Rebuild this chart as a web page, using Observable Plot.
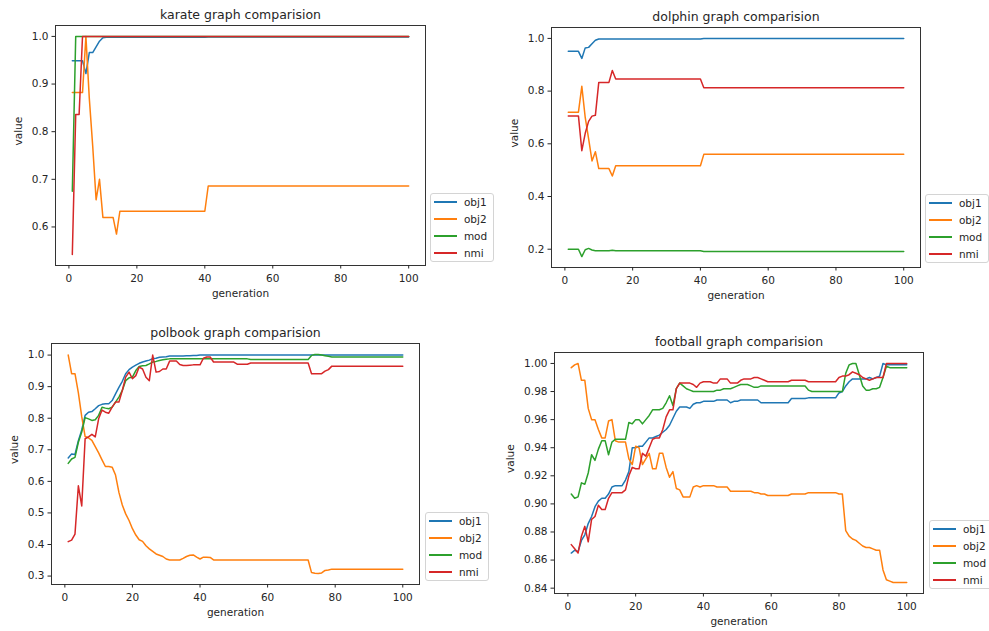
<!DOCTYPE html>
<html><head><meta charset="utf-8">
<script src="https://cdn.jsdelivr.net/npm/d3@7"></script>
<script src="https://cdn.jsdelivr.net/npm/@observablehq/plot@0.6"></script>
<style>
body{margin:0;background:#fff;}
#root{position:relative;width:989px;height:631px;overflow:hidden;background:#fff;font-family:"DejaVu Sans",sans-serif;}
.panel{position:absolute;}
.legend{position:absolute;width:64px;box-sizing:border-box;border:1px solid #d4d4d4;border-radius:3px;background:#fff;padding:0 0 0 2.5px;font-size:10.5px;color:#262626;}
.legend .row{height:16.8px;display:flex;align-items:center;white-space:nowrap;}
.legend .sw{display:block;width:23.4px;height:2px;margin-right:7px;flex:none;}
</style></head><body><div id="root"></div>
<script>
const seriesNames = ["obj1","obj2","mod","nmi"];
const seriesColors = ["#1f77b4","#ff7f0e","#2ca02c","#d62728"];
const generations = Array.from({length:100},(_,i)=>i+1);
const xTicks = [0,20,40,60,80,100];

// karate
const k_obj1 = [0.949,0.949,0.949,0.949,0.922,0.966,0.966,0.978,0.990,0.997,
0.998,0.998,0.998,0.998,0.998,0.998,0.998,0.998,0.998,0.998,
0.998,0.998,0.998,0.998,0.998,0.998,0.998,0.998,0.998,0.998,
0.998,0.998,0.998,0.998,0.998,0.998,0.998,0.998,0.998,0.998,
0.999,0.999,0.999,0.999,0.999,0.999,0.999,0.999,0.999,0.999,
0.999,0.999,0.999,0.999,0.999,0.999,0.999,0.999,0.999,0.999,
0.999,0.999,0.999,0.999,0.999,0.999,0.999,0.999,0.999,0.999,
0.999,0.999,0.999,0.999,0.999,0.999,0.999,0.999,0.999,0.999,
0.999,0.999,0.999,0.999,0.999,0.999,0.999,0.999,0.999,0.999,
0.999,0.999,0.999,0.999,0.999,0.999,0.999,0.999,0.999,0.999];
const k_obj2 = [0.882,0.882,0.882,0.882,1.000,0.870,0.770,0.657,0.700,0.620,
0.620,0.620,0.620,0.585,0.633,0.633,0.633,0.633,0.633,0.633,
0.633,0.633,0.633,0.633,0.633,0.633,0.633,0.633,0.633,0.633,
0.633,0.633,0.633,0.633,0.633,0.633,0.633,0.633,0.633,0.633,
0.686,0.686,0.686,0.686,0.686,0.686,0.686,0.686,0.686,0.686,
0.686,0.686,0.686,0.686,0.686,0.686,0.686,0.686,0.686,0.686,
0.686,0.686,0.686,0.686,0.686,0.686,0.686,0.686,0.686,0.686,
0.686,0.686,0.686,0.686,0.686,0.686,0.686,0.686,0.686,0.686,
0.686,0.686,0.686,0.686,0.686,0.686,0.686,0.686,0.686,0.686,
0.686,0.686,0.686,0.686,0.686,0.686,0.686,0.686,0.686,0.686];
const k_mod = [0.675,1.000,1.000,1.000,1.000,1.000,1.000,1.000,1.000,1.000,
1.000,1.000,1.000,1.000,1.000,1.000,1.000,1.000,1.000,1.000,
1.000,1.000,1.000,1.000,1.000,1.000,1.000,1.000,1.000,1.000,
1.000,1.000,1.000,1.000,1.000,1.000,1.000,1.000,1.000,1.000,
1.000,1.000,1.000,1.000,1.000,1.000,1.000,1.000,1.000,1.000,
1.000,1.000,1.000,1.000,1.000,1.000,1.000,1.000,1.000,1.000,
1.000,1.000,1.000,1.000,1.000,1.000,1.000,1.000,1.000,1.000,
1.000,1.000,1.000,1.000,1.000,1.000,1.000,1.000,1.000,1.000,
1.000,1.000,1.000,1.000,1.000,1.000,1.000,1.000,1.000,1.000,
1.000,1.000,1.000,1.000,1.000,1.000,1.000,1.000,1.000,1.000];
const k_nmi = [0.542,0.836,0.836,1.000,1.000,1.000,1.000,1.000,1.000,1.000,
1.000,1.000,1.000,1.000,1.000,1.000,1.000,1.000,1.000,1.000,
1.000,1.000,1.000,1.000,1.000,1.000,1.000,1.000,1.000,1.000,
1.000,1.000,1.000,1.000,1.000,1.000,1.000,1.000,1.000,1.000,
1.000,1.000,1.000,1.000,1.000,1.000,1.000,1.000,1.000,1.000,
1.000,1.000,1.000,1.000,1.000,1.000,1.000,1.000,1.000,1.000,
1.000,1.000,1.000,1.000,1.000,1.000,1.000,1.000,1.000,1.000,
1.000,1.000,1.000,1.000,1.000,1.000,1.000,1.000,1.000,1.000,
1.000,1.000,1.000,1.000,1.000,1.000,1.000,1.000,1.000,1.000,
1.000,1.000,1.000,1.000,1.000,1.000,1.000,1.000,1.000,1.000];

// dolphin
const d_obj1 = [0.951,0.951,0.951,0.951,0.924,0.964,0.966,0.980,0.993,0.998,
0.998,0.998,0.998,0.998,0.998,0.998,0.998,0.998,0.998,0.998,
0.998,0.998,0.998,0.998,0.998,0.998,0.998,0.998,0.998,0.998,
0.998,0.998,0.998,0.998,0.998,0.998,0.998,0.998,0.998,0.998,
1.000,1.000,1.000,1.000,1.000,1.000,1.000,1.000,1.000,1.000,
1.000,1.000,1.000,1.000,1.000,1.000,1.000,1.000,1.000,1.000,
1.000,1.000,1.000,1.000,1.000,1.000,1.000,1.000,1.000,1.000,
1.000,1.000,1.000,1.000,1.000,1.000,1.000,1.000,1.000,1.000,
1.000,1.000,1.000,1.000,1.000,1.000,1.000,1.000,1.000,1.000,
1.000,1.000,1.000,1.000,1.000,1.000,1.000,1.000,1.000,1.000];
const d_obj2 = [0.720,0.720,0.720,0.720,0.818,0.700,0.620,0.535,0.570,0.506,
0.506,0.506,0.506,0.478,0.517,0.517,0.517,0.517,0.517,0.517,
0.517,0.517,0.517,0.517,0.517,0.517,0.517,0.517,0.517,0.517,
0.517,0.517,0.517,0.517,0.517,0.517,0.517,0.517,0.517,0.517,
0.560,0.560,0.560,0.560,0.560,0.560,0.560,0.560,0.560,0.560,
0.560,0.560,0.560,0.560,0.560,0.560,0.560,0.560,0.560,0.560,
0.560,0.560,0.560,0.560,0.560,0.560,0.560,0.560,0.560,0.560,
0.560,0.560,0.560,0.560,0.560,0.560,0.560,0.560,0.560,0.560,
0.560,0.560,0.560,0.560,0.560,0.560,0.560,0.560,0.560,0.560,
0.560,0.560,0.560,0.560,0.560,0.560,0.560,0.560,0.560,0.560];
const d_mod = [0.200,0.200,0.200,0.200,0.172,0.198,0.203,0.197,0.194,0.194,
0.194,0.194,0.194,0.196,0.194,0.194,0.194,0.194,0.194,0.194,
0.194,0.194,0.194,0.194,0.194,0.194,0.194,0.194,0.194,0.194,
0.194,0.194,0.194,0.194,0.194,0.194,0.194,0.194,0.194,0.194,
0.191,0.191,0.191,0.191,0.191,0.191,0.191,0.191,0.191,0.191,
0.191,0.191,0.191,0.191,0.191,0.191,0.191,0.191,0.191,0.191,
0.191,0.191,0.191,0.191,0.191,0.191,0.191,0.191,0.191,0.191,
0.191,0.191,0.191,0.191,0.191,0.191,0.191,0.191,0.191,0.191,
0.191,0.191,0.191,0.191,0.191,0.191,0.191,0.191,0.191,0.191,
0.191,0.191,0.191,0.191,0.191,0.191,0.191,0.191,0.191,0.191];
const d_nmi = [0.706,0.706,0.706,0.706,0.574,0.640,0.685,0.705,0.708,0.833,
0.833,0.833,0.833,0.878,0.846,0.846,0.846,0.846,0.846,0.846,
0.846,0.846,0.846,0.846,0.846,0.846,0.846,0.846,0.846,0.846,
0.846,0.846,0.846,0.846,0.846,0.846,0.846,0.846,0.846,0.846,
0.813,0.813,0.813,0.813,0.813,0.813,0.813,0.813,0.813,0.813,
0.813,0.813,0.813,0.813,0.813,0.813,0.813,0.813,0.813,0.813,
0.813,0.813,0.813,0.813,0.813,0.813,0.813,0.813,0.813,0.813,
0.813,0.813,0.813,0.813,0.813,0.813,0.813,0.813,0.813,0.813,
0.813,0.813,0.813,0.813,0.813,0.813,0.813,0.813,0.813,0.813,
0.813,0.813,0.813,0.813,0.813,0.813,0.813,0.813,0.813,0.813];

// polbook
const p_obj1 = [0.674,0.687,0.685,0.729,0.763,0.809,0.819,0.821,0.830,0.840,
0.844,0.846,0.846,0.856,0.877,0.898,0.917,0.941,0.954,0.962,
0.968,0.974,0.978,0.981,0.984,0.989,0.990,0.993,0.994,0.995,
0.997,0.997,0.997,0.997,0.997,0.998,0.998,0.999,0.999,1.000,
1.000,1.000,1.000,1.000,1.000,1.000,1.000,1.000,1.000,1.000,
1.000,1.000,1.000,1.000,1.000,1.000,1.000,1.000,1.000,1.000,
1.000,1.000,1.000,1.000,1.000,1.000,1.000,1.000,1.000,1.000,
1.000,1.000,1.000,1.000,1.000,1.000,1.000,1.000,1.000,1.000,
1.000,1.000,1.000,1.000,1.000,1.000,1.000,1.000,1.000,1.000,
1.000,1.000,1.000,1.000,1.000,1.000,1.000,1.000,1.000,1.000];
const p_obj2 = [1.000,0.941,0.941,0.880,0.805,0.742,0.738,0.730,0.710,0.690,
0.668,0.647,0.647,0.645,0.620,0.565,0.525,0.497,0.476,0.450,
0.430,0.415,0.410,0.396,0.386,0.378,0.370,0.366,0.362,0.354,
0.351,0.351,0.351,0.351,0.356,0.362,0.366,0.367,0.360,0.354,
0.360,0.360,0.359,0.351,0.351,0.351,0.351,0.351,0.351,0.351,
0.351,0.351,0.351,0.351,0.351,0.351,0.351,0.351,0.351,0.351,
0.351,0.351,0.351,0.351,0.351,0.351,0.351,0.351,0.351,0.351,
0.351,0.351,0.311,0.309,0.308,0.310,0.318,0.319,0.322,0.322,
0.322,0.322,0.322,0.322,0.322,0.322,0.322,0.322,0.322,0.322,
0.322,0.322,0.322,0.322,0.322,0.322,0.322,0.322,0.322,0.322];
const p_mod = [0.657,0.671,0.676,0.724,0.756,0.802,0.798,0.793,0.795,0.809,
0.835,0.832,0.830,0.835,0.851,0.867,0.888,0.919,0.928,0.930,
0.951,0.964,0.966,0.967,0.972,0.978,0.980,0.983,0.985,0.987,
0.988,0.988,0.988,0.988,0.988,0.988,0.988,0.988,0.988,0.988,
0.988,0.988,0.988,0.988,0.988,0.988,0.988,0.988,0.988,0.988,
0.988,0.988,0.988,0.988,0.986,0.986,0.986,0.986,0.986,0.986,
0.986,0.986,0.986,0.986,0.986,0.986,0.986,0.986,0.986,0.986,
0.986,0.986,0.999,1.002,1.002,1.000,0.998,0.996,0.994,0.994,
0.994,0.994,0.994,0.994,0.994,0.994,0.994,0.994,0.994,0.994,
0.994,0.994,0.994,0.994,0.994,0.994,0.994,0.994,0.994,0.994];
const p_nmi = [0.409,0.414,0.433,0.586,0.522,0.735,0.741,0.749,0.741,0.798,
0.826,0.819,0.816,0.835,0.851,0.851,0.888,0.930,0.946,0.925,
0.935,0.962,0.956,0.930,0.919,1.000,0.946,0.948,0.956,0.956,
0.981,0.981,0.981,0.970,0.967,0.967,0.968,0.969,0.969,0.969,
0.990,0.994,0.994,0.978,0.978,0.978,0.978,0.978,0.978,0.978,
0.971,0.971,0.971,0.971,0.975,0.975,0.975,0.975,0.975,0.975,
0.975,0.975,0.975,0.975,0.975,0.975,0.975,0.975,0.975,0.975,
0.975,0.975,0.941,0.941,0.941,0.941,0.949,0.954,0.965,0.965,
0.965,0.965,0.965,0.965,0.965,0.965,0.965,0.965,0.965,0.965,
0.965,0.965,0.965,0.965,0.965,0.965,0.965,0.965,0.965,0.965];

// football
const f_obj1 = [0.865,0.867,0.866,0.874,0.878,0.886,0.891,0.898,0.902,0.904,
0.904,0.907,0.912,0.913,0.913,0.913,0.917,0.923,0.940,0.940,
0.941,0.941,0.944,0.947,0.947,0.948,0.949,0.951,0.953,0.956,
0.961,0.966,0.969,0.969,0.969,0.968,0.971,0.972,0.972,0.973,
0.973,0.973,0.973,0.974,0.974,0.974,0.974,0.972,0.973,0.973,
0.974,0.974,0.974,0.974,0.974,0.974,0.972,0.972,0.972,0.972,
0.972,0.972,0.972,0.972,0.972,0.975,0.975,0.975,0.975,0.975,
0.9755,0.9755,0.9755,0.9755,0.9755,0.9755,0.9755,0.9755,0.9755,0.979,
0.980,0.984,0.987,0.989,0.989,0.989,0.989,0.989,0.990,0.989,
0.990,0.991,1.000,0.999,0.999,0.999,0.999,0.999,0.999,0.999];
const f_obj2 = [0.997,0.999,1.000,0.988,0.988,0.968,0.960,0.960,0.953,0.947,
0.947,0.959,0.960,0.945,0.944,0.944,0.944,0.932,0.928,0.941,
0.940,0.928,0.932,0.936,0.925,0.925,0.936,0.936,0.926,0.919,
0.923,0.911,0.910,0.905,0.905,0.905,0.912,0.913,0.912,0.913,
0.913,0.913,0.913,0.912,0.912,0.912,0.912,0.909,0.909,0.909,
0.909,0.909,0.909,0.909,0.908,0.908,0.907,0.907,0.906,0.906,
0.906,0.906,0.906,0.906,0.906,0.907,0.907,0.907,0.907,0.907,
0.908,0.908,0.908,0.908,0.908,0.908,0.908,0.908,0.908,0.907,
0.907,0.881,0.877,0.875,0.874,0.872,0.870,0.869,0.869,0.868,
0.867,0.867,0.853,0.846,0.845,0.844,0.844,0.844,0.844,0.844];
const f_mod = [0.907,0.904,0.905,0.915,0.914,0.922,0.935,0.931,0.939,0.945,
0.945,0.935,0.944,0.946,0.946,0.946,0.946,0.958,0.957,0.960,
0.960,0.957,0.960,0.963,0.967,0.967,0.967,0.968,0.972,0.977,
0.970,0.982,0.986,0.984,0.982,0.981,0.980,0.980,0.980,0.980,
0.980,0.980,0.980,0.981,0.981,0.982,0.982,0.982,0.983,0.984,
0.985,0.985,0.985,0.984,0.983,0.983,0.984,0.984,0.984,0.984,
0.984,0.984,0.984,0.984,0.984,0.984,0.984,0.984,0.984,0.984,
0.981,0.980,0.980,0.980,0.980,0.980,0.980,0.980,0.980,0.980,
0.980,0.993,0.999,1.000,1.000,0.992,0.984,0.981,0.981,0.982,
0.982,0.983,0.990,0.998,0.997,0.997,0.997,0.997,0.997,0.997];
const f_nmi = [0.871,0.868,0.865,0.877,0.884,0.873,0.889,0.891,0.899,0.896,
0.896,0.904,0.908,0.908,0.908,0.908,0.910,0.920,0.926,0.925,
0.925,0.936,0.934,0.940,0.946,0.947,0.947,0.953,0.962,0.967,
0.967,0.982,0.986,0.986,0.986,0.986,0.985,0.983,0.986,0.987,
0.987,0.987,0.986,0.986,0.989,0.989,0.989,0.986,0.986,0.986,
0.988,0.989,0.989,0.989,0.990,0.990,0.989,0.988,0.987,0.987,
0.987,0.987,0.987,0.987,0.987,0.988,0.988,0.988,0.988,0.988,
0.987,0.987,0.987,0.987,0.987,0.987,0.987,0.987,0.987,0.990,
0.991,0.991,0.992,0.994,0.993,0.992,0.990,0.989,0.988,0.989,
0.990,0.990,0.990,1.000,1.000,1.000,1.000,1.000,1.000,1.000];

const karateTicks = [0.6,0.7,0.8,0.9,1.0];
const dolphinTicks = [0.2,0.4,0.6,0.8,1.0];
const polbookTicks = [0.3,0.4,0.5,0.6,0.7,0.8,0.9,1.0];
const footballTicks = [0.84,0.86,0.88,0.90,0.92,0.94,0.96,0.98,1.00];

const panels = [
  {title:"karate graph comparision", values:[k_obj1,k_obj2,k_mod,k_nmi], yTicks:karateTicks, fmt:".1f", rect:[55,25,425,265], legend:[430,193], ylab:37},
  {title:"dolphin graph comparision", values:[d_obj1,d_obj2,d_mod,d_nmi], yTicks:dolphinTicks, fmt:".1f", rect:[551,27,920,267], legend:[925,194], ylab:37},
  {title:"polbook graph comparision", values:[p_obj1,p_obj2,p_mod,p_nmi], yTicks:polbookTicks, fmt:".1f", rect:[51,343,419,584], legend:[425,512], ylab:37},
  {title:"football graph comparision", values:[f_obj1,f_obj2,f_mod,f_nmi], yTicks:footballTicks, fmt:".2f", rect:[554,352,923,593], legend:[929,520], ylab:44}
];

const root = document.getElementById("root");
for (const spec of panels) {
  const ML = 55, MT = 28, MR = 6, MB = 40;
  const [l,t,r,b] = spec.rect;
  const data = [];
  seriesNames.forEach((s,k) => spec.values[k].forEach((v,i) => data.push({g: generations[i], v, s})));
  const [lo, hi] = d3.extent(data, d => d.v);
  const pad = (hi - lo) * 0.05;
  const [gx0, gx1] = d3.extent(generations);
  const xpad = (gx1 - gx0) * 0.05;
  const chart = Plot.plot({
    width: (r - l) + ML + MR, height: (b - t) + MT + MB,
    marginLeft: ML, marginTop: MT, marginRight: MR, marginBottom: MB,
    style: {fontFamily: "DejaVu Sans", fontSize: "10.5px", color: "#262626", background: "white", overflow: "visible"},
    x: {domain: [gx0 - xpad, gx1 + xpad]},
    y: {domain: [lo - pad, hi + pad]},
    color: {domain: seriesNames, range: seriesColors},
    marks: [
      Plot.line(data, {x: "g", y: "v", z: "s", stroke: "s", strokeWidth: 1.5}),
      Plot.frame({stroke: "#333"}),
      Plot.axisX({ticks: xTicks, tickSize: 3.5, tickPadding: 6, label: null}),
      Plot.axisY({ticks: spec.yTicks, tickFormat: d3.format(spec.fmt), tickSize: 3.5, tickPadding: 3.5, label: null}),
      Plot.text([spec.title], {text: d => d, frameAnchor: "top", dy: -10.5, fontSize: 12.5, lineAnchor: "middle"}),
      Plot.text(["generation"], {text: d => d, frameAnchor: "bottom", dy: 28, lineAnchor: "middle"}),
      Plot.text(["value"], {text: d => d, frameAnchor: "left", dx: -spec.ylab, rotate: -90, lineAnchor: "middle"})
    ]
  });
  chart.classList.add("panel");
  chart.style.left = (l - ML) + "px";
  chart.style.top = (t - MT) + "px";
  root.appendChild(chart);

  const lg = document.createElement("div");
  lg.className = "legend";
  lg.style.left = spec.legend[0] + "px";
  lg.style.top = spec.legend[1] + "px";
  seriesNames.forEach((s,k) => {
    const row = document.createElement("div");
    row.className = "row";
    const sw = document.createElement("span");
    sw.className = "sw";
    sw.style.backgroundColor = seriesColors[k];
    const tx = document.createElement("span");
    tx.textContent = s;
    row.appendChild(sw); row.appendChild(tx);
    lg.appendChild(row);
  });
  root.appendChild(lg);
}
</script></body></html>
